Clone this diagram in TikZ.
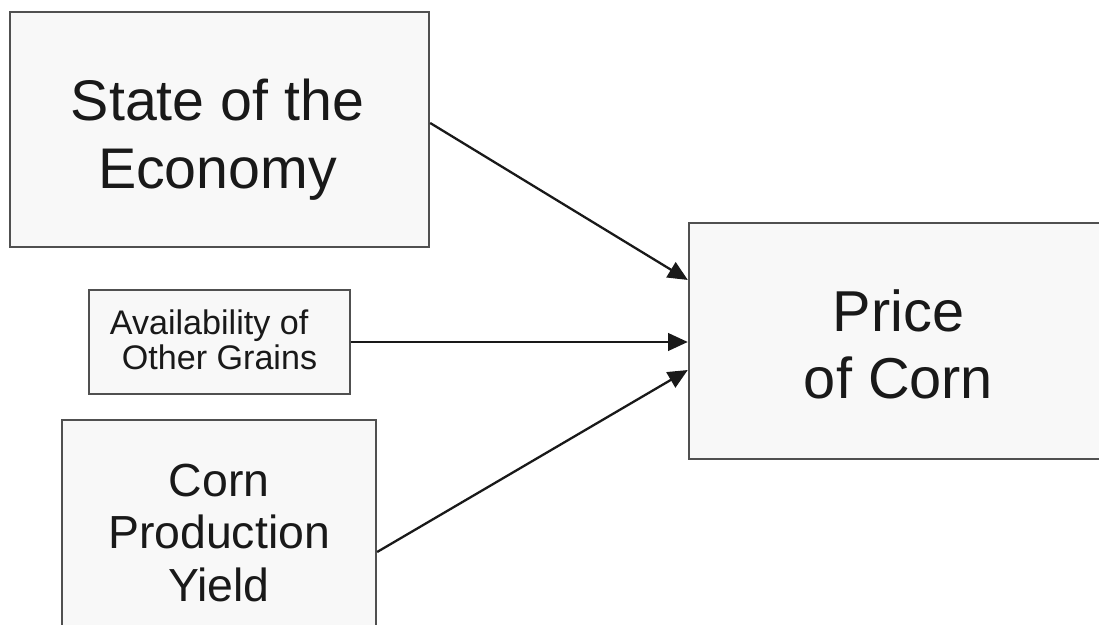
\documentclass[tikz,border=0pt]{standalone}
\usepackage{fontspec}
\setmainfont{Liberation Sans}
\usetikzlibrary{arrows.meta}
\definecolor{boxfill}{RGB}{248,248,248}
\definecolor{boxline}{RGB}{80,80,80}
\definecolor{inkcol}{RGB}{25,25,25}
\begin{document}
\begin{tikzpicture}[x=0.01cm,y=-0.01cm,
		box/.style={draw=boxline,fill=boxfill,line width=0.6pt,inner sep=0pt},
		lbl/.style={align=center,inner sep=0pt,text=inkcol},
		link/.style={draw=inkcol,line width=0.65pt,-{Triangle[length=5.6pt,width=5pt]}}]
				\useasboundingbox (0,0) rectangle (1099,625);
				\node [box,minimum width=4.19cm,minimum height=2.35cm] (state) at (219.5,129.5) {};
				\node [lbl,font=\fontsize{16.3}{19.3}\selectfont] (statetxt) at (217.5,139.5) {State of the\\Economy};
				\node [box,minimum width=2.61cm,minimum height=1.04cm] (avail) at (219.5,342) {};
				\node [lbl,font=\fontsize{9.7}{10}\selectfont] (availtxt) at (219.5,340) {Availability of\hspace*{5.9pt}\\Other Grains};
				\node [box,minimum width=3.14cm,minimum height=2.64cm] (corn) at (219,552) {};
				\node [lbl,font=\fontsize{13.2}{14.9}\selectfont] (corntxt) at (219,532.8) {Corn\\Production\\Yield};
				\node [box,minimum width=6cm,minimum height=2.36cm] (price) at (989,341) {};
				\node [lbl,font=\fontsize{16.4}{19.1}\selectfont] (pricetxt) at (898.5,344.8) {Price\\of Corn};
				\draw [link] ([yshift=0.065cm]state.east) -- ([yshift=0.61cm]price.west);
				\draw [link] (avail.east) -- (avail.east -| price.west);
				\draw [link] (corn.east) -- ([yshift=-0.29cm]price.west);
			\end{tikzpicture}
\end{document}
